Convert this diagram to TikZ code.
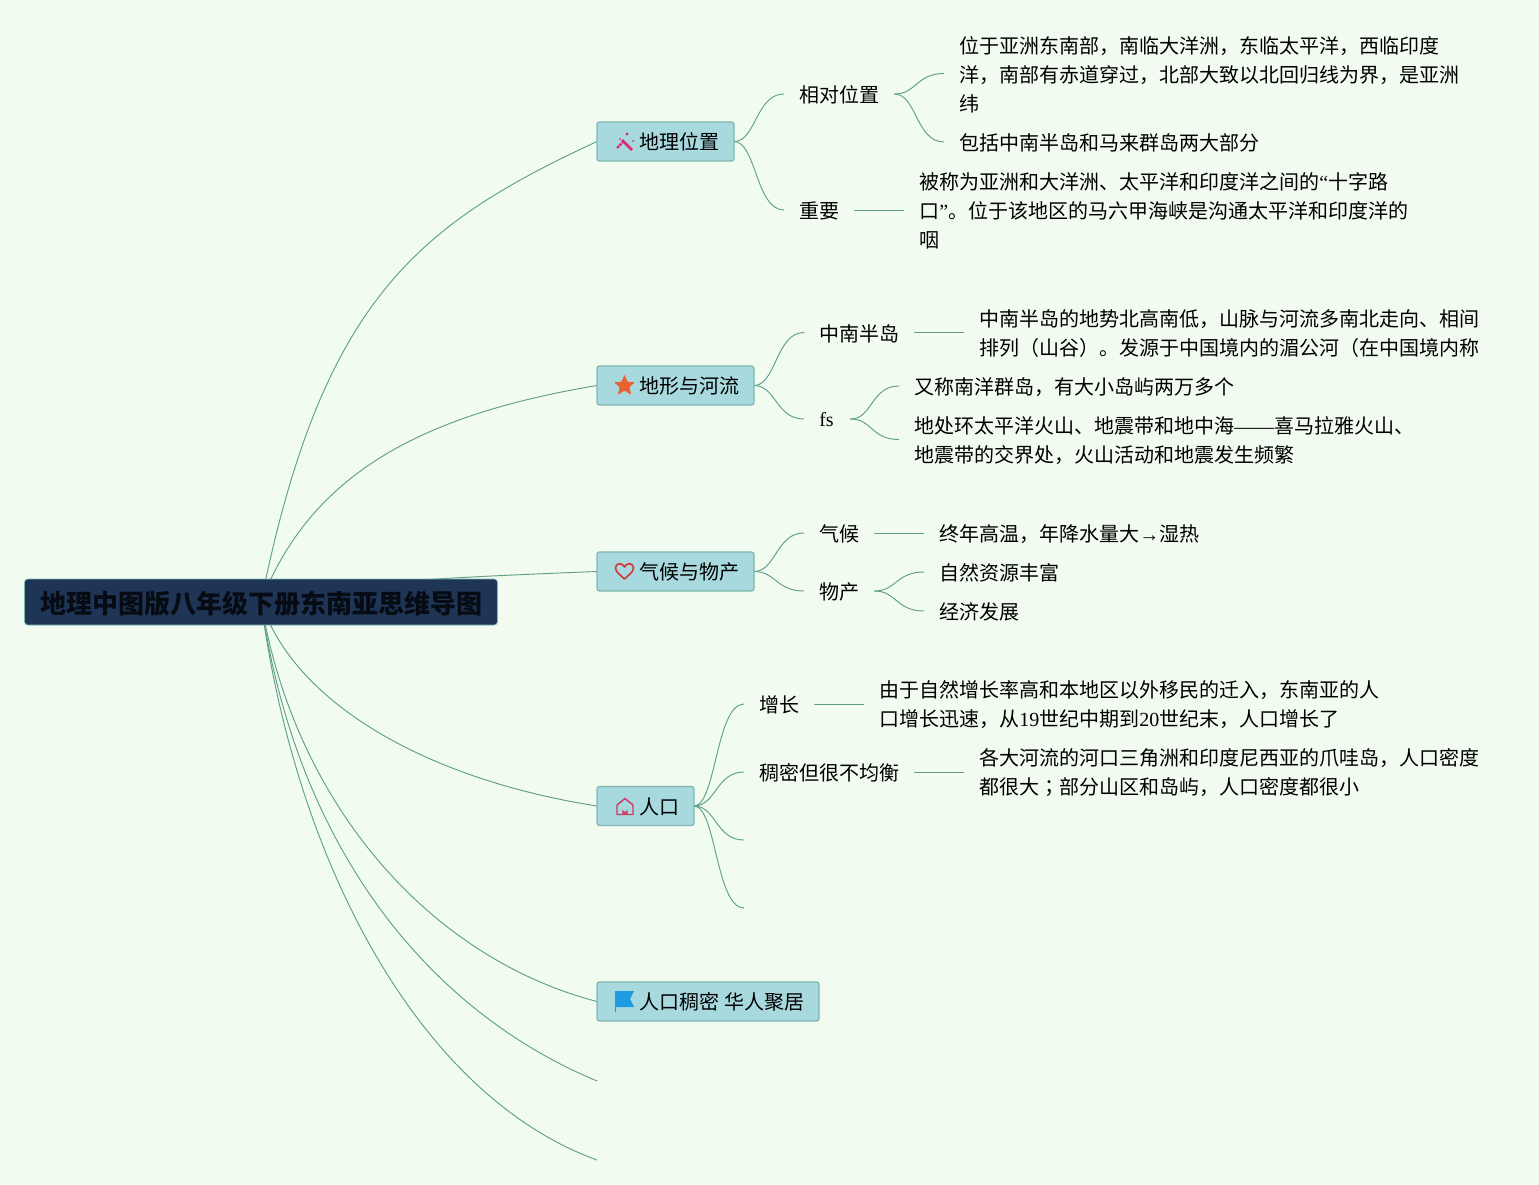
\documentclass[tikz,border=0pt]{standalone}
\usepackage{fontspec}
\setmainfont{Noto Sans CJK SC}
\newfontfamily\latfont{Liberation Serif}
\newfontfamily\tcfont{Noto Sans CJK TC}
\newcommand{\lat}[1]{{\latfont #1}}
\usetikzlibrary{backgrounds,calc}
\definecolor{bgc}{HTML}{F1FBF0}
\definecolor{linec}{HTML}{5F9F88}
\definecolor{boxf}{HTML}{A8D9DE}
\definecolor{boxd}{HTML}{7FB8AE}
\definecolor{rootf}{HTML}{1F3556}
\definecolor{roott}{HTML}{060B14}
\definecolor{iconm}{HTML}{DA2A72}
\definecolor{icons}{HTML}{E8632F}
\definecolor{iconh}{HTML}{CE3B36}
\definecolor{iconp}{HTML}{CF3A62}
\definecolor{iconf}{HTML}{1E9BE0}
\tikzset{
  x=0.75pt,y=-0.75pt,
  rootbox/.style={draw=boxd,line width=0.5pt,outer sep=0pt,fill=rootf,rounded corners=2.5pt,text=roott,font=\fontsize{19.5pt}{24pt}\selectfont\bfseries,inner xsep=11.25pt,inner ysep=0pt,minimum height=34.5pt,anchor=center},
  mainbox/.style={draw=boxd,line width=0.9pt,outer sep=0pt,fill=boxf,rounded corners=1.8pt,font=\fontsize{15pt}{20pt}\selectfont,inner xsep=11.25pt,inner ysep=0pt,minimum height=29.25pt,anchor=west},
  leaf/.style={font=\fontsize{15pt}{21.75pt}\selectfont,inner xsep=11.25pt,inner ysep=0pt,anchor=west,align=left,yshift=-0.75pt},
  conn/.style={draw=linec,line width=0.7pt,line cap=round},
}
\newcommand{\boxtext}[1]{\hspace*{20.25pt}\raisebox{-0.4pt}[\height][\depth]{#1}}
\begin{document}
\begin{tikzpicture}
\useasboundingbox (0,0) rectangle (1539,1185);
% root and main branches
\node[rootbox] (root) at (261,602) {\raisebox{-1.5pt}[\height][\depth]{\hspace{0.75pt}地理中图版八年级下册东南亚思维导图}};
\node[mainbox] (geo) at (597,141.5) {\boxtext{地理位置}};
\node[mainbox] (land) at (597,385.5) {\boxtext{地形与河流}};
\node[mainbox] (clim) at (597,571.5) {\boxtext{气候与物产}};
\node[mainbox] (pop) at (597,806) {\boxtext{人口}};
\node[mainbox] (dense) at (597,1001.5) {\boxtext{人口稠密\lat{ }华人聚居}};
\coordinate (end1) at (597,1081);
\coordinate (end2) at (597,1160);
% branch 1
\node[leaf] (rel) at (784,94) {相对位置};
\node[leaf] (rel1) at (944,73.5) {位于亚洲东南部，南临大洋洲，东临太平洋，西临印度\\洋，南部有赤道穿过，北部大致以北回归线为界，是亚洲\\纬};
\node[leaf] (rel2) at (944,142) {包括中南半岛和马来群岛两大部分};
\node[leaf] (imp) at (784,210) {重要};
\node[leaf] (imp1) at (904,210) {被称为亚洲和大洋洲、太平洋和印度洋之间的\lat{“}十字路\\口\lat{”}。位于该地区的马六甲海峡是沟通太平洋和印度洋的\\咽};
% branch 2
\node[leaf] (zn) at (804,332.5) {中南半岛};
\node[leaf] (zn1) at (964,332.5) {中南半岛的地势北高南低，山脉与河流多南北走向、相间\\排列（山谷）。发源于中国境内的湄公河（在中国境内称};
\node[leaf,text width=12pt] (fs) at (804,419) {\lat{fs}};
\node[leaf] (fs1) at (899,386) {又称南洋群岛，有大小岛屿两万多个};
\node[leaf] (fs2) at (899,439.5) {地处环太平洋火山、地震带和地中海\lat{——}喜马拉雅火山、\\地震带的交界处，火山活动和地震发生频繁};
% branch 3
\node[leaf] (qh) at (804,533) {气候};
\node[leaf] (qh1) at (924,533) {终年高温，年降水量大\lat{→}湿热};
\node[leaf] (wc) at (804,591) {物产};
\node[leaf] (wc1) at (924,572) {自然资源丰富};
\node[leaf] (wc2) at (924,611) {经济发展};
% branch 4
\node[leaf] (zz) at (744,704) {增长};
\node[leaf] (zz1) at (864,704) {由于自然增长率高和本地区以外移民的迁入，东南亚的人\\口增长迅速，从\lat{19}世纪中期到\lat{20}世纪末，人口增长了};
\node[leaf] (cm) at (744,772) {稠密但很不均衡};
\node[leaf] (cm1) at (964,772) {各大河流的河口三角洲和印度尼西亚的爪哇岛，人口密度\\都很大{\tcfont ；}部分山区和岛屿，人口密度都很小};
\coordinate (pe3) at (744,840);
\coordinate (pe4) at (744,908);
% icons
\begin{scope}[shift={(625,141)}]
  \draw[iconm,line width=1.9pt] (-3,-1) -- (7,9);
  \draw[iconm,line width=1.6pt,dash pattern=on 2pt off 0.6pt] (-8,7) -- (-2,1);
  \fill[iconm] (2,-7) circle (1.7) (8,0) circle (1) (-5,-2) circle (1);
\end{scope}
\fill[icons,rounded corners=0.8pt,shift={(624.5,385.5)}] (0,-11) -- (3.1,-3.5) -- (10.5,-3.2) -- (4.8,1.6) -- (6.8,9.4) -- (0,5) -- (-6.8,9.4) -- (-4.8,1.6) -- (-10.5,-3.2) -- (-3.1,-3.5) -- cycle;
\draw[iconh,line width=1.2pt,shift={(624.5,571)},line join=round] (0,8) .. controls (-4,4) and (-9,1) .. (-9,-3) .. controls (-9,-8) and (-2,-9) .. (0,-4) .. controls (2,-9) and (9,-8) .. (9,-3) .. controls (9,1) and (4,4) .. (0,8) -- cycle;
\begin{scope}[shift={(625,806)}]
  \draw[iconp,line width=1.1pt,line join=round] (-8,8.5) -- (-8,-1) -- (0,-7.5) -- (8,-1) -- (8,8.5) -- cycle;
  \fill[iconp] (-2.7,8.5) -- (-2.7,3) arc[start angle=180,end angle=0,radius=2.7] -- (2.7,8.5) -- cycle;
\end{scope}
\begin{scope}[shift={(625,1000)}]
  \fill[iconf] (-10,-9) -- (9,-9) -- (5,-1) -- (9,7) -- (-10,7) -- cycle;
  \draw[iconf,line width=0.8pt] (-9.6,-9) -- (-9.6,12);
\end{scope}
% connectors
\begin{pgfonlayer}{background}
  \fill[bgc] (0,0) rectangle (1539,1185);
  \draw[conn] (root.center) .. controls (322,300) and (417,225) .. (geo.west);
  \draw[conn] (root.center) .. controls (310,475) and (420,415) .. (land.west);
  \draw[conn] (root.center) .. controls (300,585) and (430,578) .. (clim.west);
  \draw[conn] (root.center) .. controls (295,705) and (430,780) .. (pop.west);
  \draw[conn] (root.center) .. controls (295,805) and (430,958) .. (dense.west);
  \draw[conn] (root.center) .. controls (295,840) and (422,1008) .. (end1);
  \draw[conn] (root.center) .. controls (295,860) and (418,1095) .. (end2);
  \foreach \a/\b in {geo/rel,geo/imp,land/zn,land/fs,clim/qh,clim/wc,pop/zz,pop/cm}{
    \draw[conn] (\a.east) .. controls ($(\a.east)+(22,0)$) and ($(\b.west)+(-28,-1)$) .. ($(\b.west)+(0,-1)$);
  }
  \foreach \a/\b in {rel/rel1,rel/rel2,fs/fs1,fs/fs2,wc/wc1,wc/wc2}{
    \draw[conn] ($(\a.east)+(0,-1)$) .. controls ($(\a.east)+(22,-1)$) and ($(\b.west)+(-28,-1)$) .. ($(\b.west)+(0,-1)$);
  }
  \draw[conn] (pop.east) .. controls ($(pop.east)+(22,0)$) and ($(pe3)+(-28,0)$) .. (pe3);
  \draw[conn] (pop.east) .. controls ($(pop.east)+(22,0)$) and ($(pe4)+(-28,0)$) .. (pe4);
  \foreach \a/\b in {imp/imp1,zn/zn1,qh/qh1,zz/zz1,cm/cm1}{
    \draw[conn] ($(\a.east)+(0,-1)$) -- ($(\b.west)+(0,-1)$);
  }
\end{pgfonlayer}
\end{tikzpicture}
\end{document}
